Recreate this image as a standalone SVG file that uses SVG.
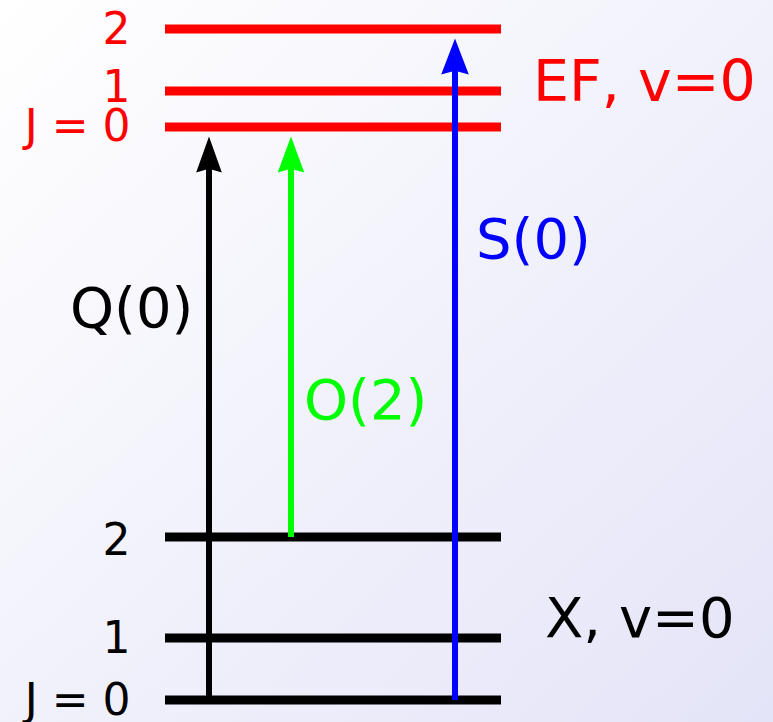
<svg xmlns="http://www.w3.org/2000/svg" width="773" height="722" viewBox="0 0 773 722">
  <defs>
    <linearGradient id="bg" x1="0" y1="0" x2="1" y2="1">
      <stop offset="0" stop-color="#ffffff"/>
      <stop offset="1" stop-color="#e4e4f8"/>
    </linearGradient>
    <marker id="ahK" markerUnits="userSpaceOnUse" markerWidth="40" markerHeight="32" viewBox="-10 -16 42 32" refX="0" refY="0" orient="auto" overflow="visible">
      <path d="M30,0 L-8,-13.5 L-4,0 L-8,13.5 Z" fill="#000"/>
    </marker>
    <marker id="ahG" markerUnits="userSpaceOnUse" markerWidth="40" markerHeight="32" viewBox="-10 -16 42 32" refX="0" refY="0" orient="auto" overflow="visible">
      <path d="M30,0 L-8,-14 L-4,0 L-8,14 Z" fill="#00ff00"/>
    </marker>
    <marker id="ahB" markerUnits="userSpaceOnUse" markerWidth="40" markerHeight="32" viewBox="-10 -16 42 32" refX="0" refY="0" orient="auto" overflow="visible">
      <path d="M30,0 L-8,-14.5 L-4,0 L-8,14.5 Z" fill="#0000ff"/>
    </marker>
  </defs>
  <style>
    text { font-family: "DejaVu Sans", "Liberation Sans", sans-serif; }
    .lvl { stroke-width: 9; fill: none; }
    .ef { stroke: #ff0000; }
    .x { stroke: #000000; }
    .jl { font-size: 44px; text-anchor: end; }
    .big { font-size: 56px; }
    .red { fill: #ff0000; }
    .blk { fill: #000000; }
    .arr { stroke-width: 6; fill: none; }
  </style>
  <rect x="0" y="0" width="773" height="722" fill="url(#bg)"/>

  <g id="ef-j2">
    <line class="lvl ef" x1="165" y1="29" x2="501" y2="29"/>
    <text class="jl red" x="130.5" y="44">2</text>
  </g>
  <g id="ef-j1">
    <line class="lvl ef" x1="165" y1="91" x2="501" y2="91"/>
    <text class="jl red" x="130.5" y="102">1</text>
  </g>
  <g id="ef-j0">
    <line class="lvl ef" x1="165" y1="127" x2="501" y2="127"/>
    <text class="jl red" x="130.5" y="141">J = 0</text>
  </g>
  <g id="ef-label">
    <text class="big red" x="533" y="101" style="font-size:57px">EF, v=0</text>
  </g>

  <g id="x-j2">
    <line class="lvl x" x1="165" y1="537" x2="501" y2="537"/>
    <text class="jl blk" x="130.5" y="555">2</text>
  </g>
  <g id="x-j1">
    <line class="lvl x" x1="165" y1="638" x2="501" y2="638"/>
    <text class="jl blk" x="130.5" y="653">1</text>
  </g>
  <g id="x-j0">
    <line class="lvl x" x1="165" y1="700" x2="501" y2="700"/>
    <text class="jl blk" x="130.5" y="715">J = 0</text>
  </g>
  <g id="x-label">
    <text class="big blk" x="545" y="637">X, v=0</text>
  </g>

  <g id="connectors">
    <g id="q0">
      <line class="arr" stroke="#000000" x1="209" y1="700" x2="209" y2="165" marker-end="url(#ahK)"/>
      <text class="big blk" x="70" y="327">Q(0)</text>
    </g>
    <g id="o2">
      <line class="arr" stroke="#00ff00" x1="291" y1="537" x2="291" y2="165" marker-end="url(#ahG)"/>
      <text class="big" fill="#00ff00" x="304" y="419">O(2)</text>
    </g>
    <g id="s0">
      <line class="arr" stroke="#0000ff" x1="455" y1="700" x2="455" y2="67" marker-end="url(#ahB)"/>
      <text class="big" fill="#0000ff" x="476" y="258">S(0)</text>
    </g>
  </g>
</svg>
